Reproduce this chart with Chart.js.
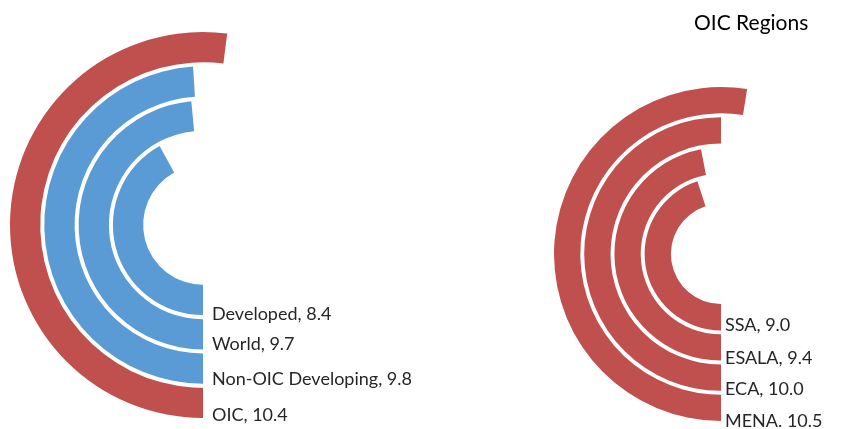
<!DOCTYPE html>
<html>
<head>
<meta charset="utf-8">
<script src="https://cdn.jsdelivr.net/npm/chart.js@4.4.1/dist/chart.umd.min.js"></script>
<style>
  html, body { margin: 0; padding: 0; background: #fff; overflow: hidden; }
  body { width: 841px; height: 429px; position: relative; }
  canvas { position: absolute; top: 0; left: 0; }
  #title { position: absolute; left: 694px; top: 9px; font: 21px Lato, "Open Sans", sans-serif; color: #000; }
</style>
</head>
<body>
<canvas id="leftChart" width="841" height="429"></canvas>
<canvas id="rightChart" width="1000" height="429"></canvas>
<div id="title">OIC Regions</div>
<script>
// data, outer ring first
const scaleMax = 20;

const leftLabels = ["OIC", "Non-OIC Developing", "World", "Developed"];
const leftValues = [10.4, 9.8, 9.7, 8.4];
const leftColors = ["#C0504D", "#5B9BD5", "#5B9BD5", "#5B9BD5"];

const rightLabels = ["MENA", "ECA", "ESALA", "SSA"];
const rightSeps = [". ", ", ", ", ", ", "];
const rightValues = [10.5, 10.0, 9.4, 9.0];
const rightColors = ["#C0504D", "#C0504D", "#C0504D", "#C0504D"];

const labelFont = '18px Lato, "Open Sans", sans-serif';

function buildDatasets(values, colors, ringWeight) {
  const sets = [];
  values.forEach((v, i) => {
    if (i > 0) {
      // white gap between rings
      sets.push({ data: [1], backgroundColor: ["rgba(0,0,0,0)"], borderWidth: 0, weight: 4, spacer: true });
    }
    sets.push({
      data: [v, scaleMax - v],
      backgroundColor: [colors[i], "rgba(0,0,0,0)"],
      borderWidth: 0,
      weight: ringWeight,
      ringIndex: i
    });
  });
  return sets;
}

const ringLabels = {
  id: "ringLabels",
  afterDatasetsDraw(chart, args, opts) {
    const ctx = chart.ctx;
    ctx.save();
    ctx.font = labelFont;
    ctx.fillStyle = "#262626";
    ctx.textBaseline = "middle";
    chart.data.datasets.forEach((ds, di) => {
      if (ds.spacer) return;
      const arc = chart.getDatasetMeta(di).data[0];
      const i = ds.ringIndex;
      const sep = opts.seps ? opts.seps[i] : ", ";
      const text = opts.labels[i] + sep + opts.values[i].toFixed(1);
      const y = arc.y + (arc.innerRadius + arc.outerRadius) / 2 + opts.dy[i];
      ctx.fillText(text, arc.x + opts.dx, y);
    });
    ctx.restore();
  }
};

function makeChart(id, values, colors, labels, seps, opt) {
  return new Chart(document.getElementById(id), {
    type: "doughnut",
    data: { labels: ["value", "rest"], datasets: buildDatasets(values, colors, opt.ringWeight) },
    options: {
      responsive: false,
      animation: false,
      rotation: 180,
      circumference: 360,
      cutout: opt.cutout,
      layout: { padding: opt.padding },
      plugins: {
        legend: { display: false },
        tooltip: { enabled: false },
        ringLabels: { labels: labels, values: values, seps: seps, dx: opt.dx, dy: opt.dy }
      },
      events: []
    },
    plugins: [ringLabels]
  });
}

makeChart("leftChart", leftValues, leftColors, leftLabels, null, {
  ringWeight: 30, cutout: "31%",
  padding: { left: 10, top: 32, right: 841 - 396, bottom: 429 - 418 },
  dx: 9, dy: [12.6, 10.9, 10.3, 14.6]
});
makeChart("rightChart", rightValues, rightColors, rightLabels, rightSeps, {
  ringWeight: 27, cutout: "30%",
  padding: { left: 554, top: 87, right: 1000 - 888, bottom: 429 - 421 },
  dx: 4, dy: [13.2, 11.4, 10.5, 7.7]
});
</script>
</body>
</html>
